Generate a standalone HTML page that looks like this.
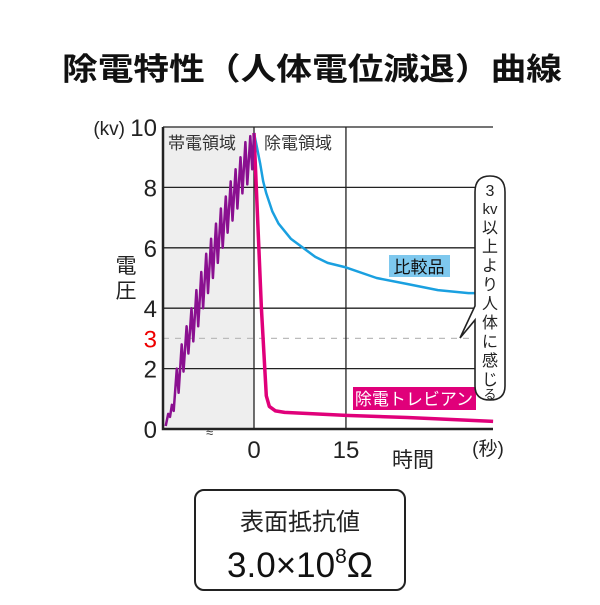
<!DOCTYPE html>
<html><head><meta charset="utf-8"><style>
body{margin:0;background:#fff;}
svg text{font-family:"Liberation Sans","Noto Sans CJK JP",sans-serif;}
</style></head><body>
<svg width="600" height="600" viewBox="0 0 600 600" xmlns="http://www.w3.org/2000/svg">
<rect width="600" height="600" fill="#fff"/>
<text x="62" y="80" textLength="500" lengthAdjust="spacingAndGlyphs" font-size="31" font-weight="bold" fill="#111">除電特性（人体電位減退）曲線</text>
<rect x="163" y="127" width="91" height="302" fill="#eeeeee"/>
<g id="grid"></g>
<g id="series"></g>
<g id="labels"></g>
<text x="168" y="149" font-size="17" fill="#333">帯電領域</text>
<text x="264" y="149" font-size="17" fill="#333">除電領域</text>
<text x="125" y="135" font-size="19" text-anchor="end" fill="#222">(kv)</text>
<text x="126" y="273" font-size="21" text-anchor="middle" fill="#222">電</text>
<text x="126" y="298" font-size="21" text-anchor="middle" fill="#222">圧</text>
<text x="413" y="467" font-size="21" text-anchor="middle" fill="#222">時間</text>
<text x="488" y="455" font-size="19" text-anchor="middle" fill="#222">(秒)</text>
<text x="206" y="437" font-size="13" fill="#333">≈</text>
<rect x="389" y="255" width="61" height="22" fill="#7ec8ee"/>
<text x="419" y="273" font-size="17" text-anchor="middle" fill="#111">比較品</text>
<rect x="353" y="387" width="123" height="23" fill="#e0007a"/>
<text x="414" y="405" font-size="17" text-anchor="middle" fill="#fff">除電トレビアン</text>
<path d="M490 176 Q505 176 505 192 L505 386 Q505 400 490 400 Q475 400 475 386 L475 320 L460 338 L475 306 L475 192 Q475 176 490 176 Z" fill="#fff" stroke="#222" stroke-width="1.6"/>
<g font-size="16" fill="#222" text-anchor="middle">
<text x="490" y="196">3</text><text x="490" y="214" font-size="15">kv</text><text x="490" y="233">以</text><text x="490" y="252">上</text><text x="490" y="271">よ</text><text x="490" y="290">り</text><text x="490" y="309">人</text><text x="490" y="328">体</text><text x="490" y="347">に</text><text x="490" y="366">感</text><text x="490" y="385">じ</text><text x="490" y="399" font-size="13">る</text>
</g>
<rect x="195" y="490" width="210" height="100" rx="9" fill="#fff" stroke="#222" stroke-width="2"/>
<text x="300" y="530" font-size="24" text-anchor="middle" fill="#222">表面抵抗値</text>
<text x="300" y="577" font-size="35" text-anchor="middle" fill="#111">3.0×10<tspan font-size="21" dy="-14">8</tspan><tspan dy="14">Ω</tspan></text>
</svg>
<script>
const yTicks=[0,2,4,6,8,10];
const xTicks=[0,15];
const blueT=[0,0.5,1,1.5,2,3,4,6,8,10,12,15,20,25,30,35,39];
const blueV=[9.8,9.3,8.8,8.2,7.8,7.2,6.8,6.3,6.0,5.7,5.5,5.35,5.0,4.8,4.6,4.5,4.5];
const pinkT=[0,1.2,2.0,2.5,3.5,5,15,25,39];
const pinkV=[9.8,4.0,1.1,0.75,0.6,0.55,0.45,0.38,0.25];
const chargeT=[-14.4,-14.0,-13.7,-13.4,-13.1,-12.6,-12.3,-11.8,-11.5,-11.0,-10.7,-10.2,-9.9,-9.4,-9.1,-8.6,-8.3,-7.8,-7.5,-7.0,-6.7,-6.2,-5.9,-5.4,-5.1,-4.6,-4.3,-3.8,-3.5,-3.0,-2.7,-2.2,-1.9,-1.4,-1.1,-0.6,-0.3,0];
const chargeV=[0.1,0.5,0.4,0.8,0.6,2.0,1.2,2.8,1.9,3.4,2.5,4.0,2.9,4.6,3.4,5.2,4.0,5.8,4.5,6.3,5.0,6.8,5.5,7.3,6.0,7.7,6.5,8.2,6.9,8.6,7.3,9.0,7.8,9.5,8.1,9.7,8.6,9.8];
const threshold=3;
const NS='http://www.w3.org/2000/svg';
const X=t=>254+t*6.13;
const Y=v=>429-v*30.2;
function mk(tag,attrs,parent){const e=document.createElementNS(NS,tag);for(const k in attrs)e.setAttribute(k,attrs[k]);parent.appendChild(e);return e;}
const grid=document.getElementById('grid'),series=document.getElementById('series'),labels=document.getElementById('labels');
yTicks.forEach(v=>{if(v===0)return;
 const l=mk('line',{x1:163,x2:493,y1:Y(v),y2:Y(v),stroke:'#222','stroke-width':1.3},grid);
 
 });
yTicks.forEach(v=>{const t=mk('text',{x:157,y:Y(v)+9,'font-size':24,'text-anchor':'end',fill:'#222'},labels);t.textContent=v;
 
 });
const tt=mk('text',{x:157,y:Y(threshold)+9,'font-size':24,'text-anchor':'end',fill:'#e00'},labels);tt.textContent=threshold;


const dl=mk('line',{x1:163,x2:493,y1:Y(threshold),y2:Y(threshold),stroke:'#bbb','stroke-width':1.3,'stroke-dasharray':'6 6'},grid);


xTicks.forEach(v=>{const l=mk('line',{x1:X(v),x2:X(v),y1:Y(10),y2:Y(0),stroke:'#222','stroke-width':1.3},grid);
 
 
 const t=mk('text',{x:X(v),y:458,'font-size':24,'text-anchor':'middle',fill:'#222'},labels);t.textContent=v;
 
 });
const ax=mk('path',{d:`M163 ${Y(10)} L163 ${Y(0)} L493 ${Y(0)}`,fill:'none',stroke:'#222','stroke-width':2.5},grid);


function line(T,V,color,w,name){const d=T.map((t,i)=>(i?'L':'M')+X(t).toFixed(1)+' '+Y(V[i]).toFixed(1)).join(' ');
 const p=mk('path',{d,fill:'none',stroke:color,'stroke-width':w,'stroke-linejoin':'round'},series);
 
 }
line(blueT,blueV,'#1aa0e0',2.5,'comparison-line');
line(pinkT,pinkV,'#e0007a',3.5,'product-line');
line(chargeT,chargeV,'#8a1090',2.5,'charging-line');
</script>
</body></html>
